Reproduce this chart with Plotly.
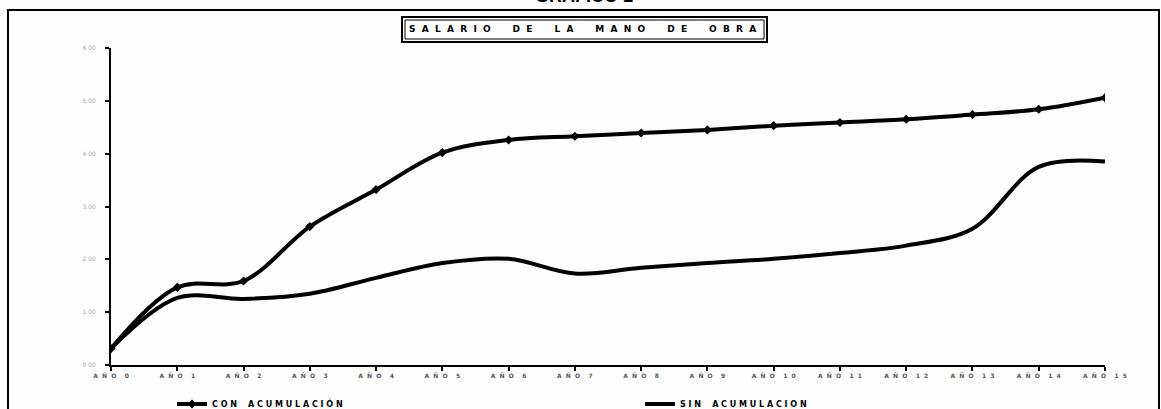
import plotly.graph_objects as go

NB = "\u00a0"

def spaced(s, gap=1, wordgap=3):
    words = s.split(" ")
    return (NB * wordgap).join((NB * gap).join(list(w)) for w in words)

years = list(range(16))
year_labels = [f"AÑO {i}" for i in years]
con_acumulacion = [0.31, 1.47, 1.59, 2.62, 3.32, 4.02, 4.26, 4.33, 4.39, 4.45,
                   4.53, 4.59, 4.65, 4.74, 4.84, 5.06]
sin_acumulacion = [0.31, 1.27, 1.25, 1.35, 1.65, 1.93, 2.01, 1.73, 1.84, 1.93,
                   2.01, 2.12, 2.26, 2.58, 3.75, 3.85]
y_ticks = [0, 1, 2, 3, 4, 5, 6]
y_tick_labels = ["0 00", "1 00", "2 00", "3 00", "4 00", "5 00", "6 00"]

W, H = 1161, 409
L, R, T, B = 111, 56, 48, 44
pw, ph = W - L - R, H - T - B

def px(x):
    return (x - L) / pw

def py(y):
    return (H - B - y) / ph

fig = go.Figure()
fig.add_trace(go.Scatter(
    x=years, y=con_acumulacion, name=spaced("CON ACUMULACIÓN", gap=1, wordgap=4),
    mode="lines+markers",
    line=dict(color="black", width=4, shape="spline", smoothing=1.0),
    marker=dict(symbol="diamond", size=7, color="black"),
))
fig.add_trace(go.Scatter(
    x=years, y=sin_acumulacion, name=spaced("SIN ACUMULACION", gap=1, wordgap=4),
    mode="lines",
    line=dict(color="black", width=4, shape="spline", smoothing=1.0),
))

fig.update_layout(
    width=W, height=H,
    margin=dict(l=L, r=R, t=T, b=B, autoexpand=False),
    paper_bgcolor="#fdfdfd", plot_bgcolor="#fdfdfd",
    font=dict(family="Liberation Sans", color="black"),
    showlegend=True,
    legend=dict(
        orientation="h", x=px(172), y=py(404), xanchor="left", yanchor="middle",
        font=dict(size=8, family="DejaVu Sans", weight="bold", color="black"),
        entrywidth=423, entrywidthmode="pixels",
        bgcolor="rgba(0,0,0,0)",
    ),
    xaxis=dict(
        range=[0, 15], tickvals=years,
        ticktext=[spaced(t, gap=2, wordgap=4) for t in year_labels],
        tickfont=dict(size=6, family="DejaVu Sans", color="#555", weight="bold"),
        showgrid=False, zeroline=False, showline=True, linecolor="black", linewidth=2,
        ticks="outside", ticklen=4, tickwidth=2, tickcolor="black",
    ),
    yaxis=dict(
        range=[0, 6], tickvals=y_ticks, ticktext=y_tick_labels,
        tickfont=dict(size=6, family="DejaVu Sans", color="#aaa"),
        showgrid=False, zeroline=False, showline=True, linecolor="black", linewidth=2,
        ticks="outside", ticklen=4, tickwidth=2, tickcolor="black",
        ticklabelstandoff=8,
    ),
)

# outer frame
fig.add_shape(type="rect", xref="paper", yref="paper",
              x0=px(8), x1=px(1159), y0=py(412), y1=py(10),
              line=dict(color="black", width=2), layer="below")
# title box (double border)
fig.add_shape(type="rect", xref="paper", yref="paper",
              x0=px(402), x1=px(767), y0=py(42), y1=py(17),
              line=dict(color="black", width=2))
fig.add_shape(type="rect", xref="paper", yref="paper",
              x0=px(405), x1=px(764), y0=py(39), y1=py(20),
              line=dict(color="black", width=1))
fig.add_annotation(xref="paper", yref="paper", x=px(582), y=py(29.5),
                   text=spaced("SALARIO DE LA MANO DE OBRA", gap=2, wordgap=7),
                   showarrow=False, xanchor="center", yanchor="middle",
                   font=dict(size=9, family="DejaVu Sans", weight="bold", color="black"))
# cut-off chart heading (partially above the frame, as in the source)
fig.add_annotation(xref="paper", yref="paper", x=px(584), y=py(8),
                   text="GRAFICO 1", showarrow=False, xanchor="center", yanchor="bottom",
                   font=dict(size=18, family="Liberation Sans", weight="bold", color="black"))

fig.write_html("out.html", config={"displayModeBar": False},
               post_script="document.body.style.margin='0';")
